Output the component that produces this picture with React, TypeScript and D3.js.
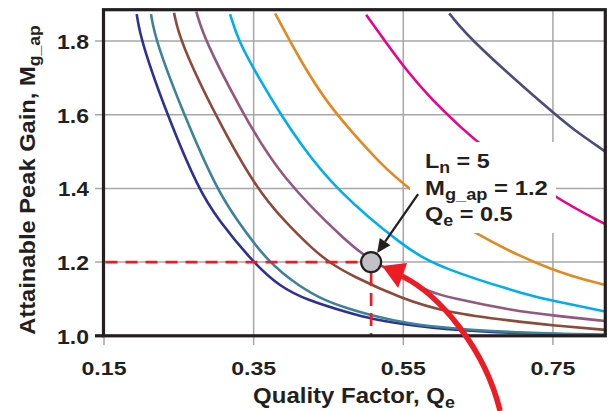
import React, { useLayoutEffect, useRef, useState } from "react";
import * as d3 from "d3";

// ---- data (Qe, attainable peak gain) ----
const qeTicks = [0.15, 0.35, 0.55, 0.75];
const qeTickLabels = ["0.15", "0.35", "0.55", "0.75"];
const gainTicks = [1.0, 1.2, 1.4, 1.6, 1.8];
const gainTickLabels = ["1.0", "1.2", "1.4", "1.6", "1.8"];
const qeGrid = [0.35, 0.55, 0.75];
const gainGrid = [1.2, 1.4, 1.6, 1.8];

const curveNavy: [number, number][] = [
  [0.1937, 1.873], [0.1995, 1.8], [0.2342, 1.6], [0.2761, 1.398], [0.3028, 1.314],
  [0.3497, 1.198], [0.3854, 1.133], [0.421, 1.097], [0.479, 1.061], [0.508, 1.046],
  [0.5525, 1.03], [0.6217, 1.015], [0.7103, 1.006], [0.82, 1.002],
];
const curveTeal: [number, number][] = [
  [0.2128, 1.873], [0.219, 1.8], [0.2583, 1.592], [0.3007, 1.398], [0.3274, 1.314],
  [0.3697, 1.198], [0.412, 1.133], [0.4432, 1.097], [0.479, 1.072], [0.508, 1.055],
  [0.5525, 1.034], [0.6217, 1.018], [0.7103, 1.008], [0.82, 1.003],
];
const curveBrown: [number, number][] = [
  [0.2436, 1.877], [0.2516, 1.799], [0.3007, 1.59], [0.3542, 1.398], [0.3898, 1.314],
  [0.4299, 1.233], [0.4522, 1.198], [0.479, 1.165], [0.5485, 1.1], [0.6087, 1.063],
  [0.697, 1.04], [0.7504, 1.028], [0.82, 1.016],
];
const curvePurple: [number, number][] = [
  [0.2733, 1.88], [0.2853, 1.799], [0.3365, 1.6], [0.3854, 1.432], [0.479, 1.245],
  [0.507, 1.205], [0.5552, 1.151], [0.586, 1.119], [0.6087, 1.105], [0.697, 1.068],
  [0.7504, 1.055], [0.82, 1.04],
];
const curveCyan: [number, number][] = [
  [0.3185, 1.873], [0.3296, 1.799], [0.3586, 1.694], [0.3853, 1.604], [0.412, 1.522],
  [0.4589, 1.398], [0.5525, 1.238], [0.5993, 1.184], [0.7197, 1.108], [0.7504, 1.095],
  [0.82, 1.066],
];
const curveOrange: [number, number][] = [
  [0.3787, 1.875], [0.4121, 1.748], [0.4455, 1.64], [0.479, 1.558], [0.519, 1.468],
  [0.557, 1.398], [0.6417, 1.278], [0.7508, 1.173], [0.82, 1.138],
];
const curveMagenta: [number, number][] = [
  [0.5004, 1.871], [0.5258, 1.799], [0.5539, 1.721], [0.5882, 1.64], [0.6301, 1.56],
  [0.6505, 1.522], [0.7531, 1.373], [0.82, 1.303],
];
const curveSlate: [number, number][] = [
  [0.6114, 1.875], [0.6417, 1.799], [0.7508, 1.604], [0.7754, 1.563], [0.82, 1.5],
];

const curves = [curveNavy, curveTeal, curveBrown, curvePurple, curveCyan, curveOrange, curveMagenta, curveSlate];
const curveColors = ["#2e3192", "#3d8299", "#8c4b3a", "#93597b", "#00aeef", "#e28a1f", "#ec008c", "#4d4b7b"];

const markerQe = 0.507;
const markerGain = 1.2;

const TXT = "#231f20";
const FONT = "'Liberation Sans', Arial, Helvetica, sans-serif";

function FitText(props: {
  x: number; y: number; width: number; anchor: "start" | "middle" | "end";
  fontSize: number; rotate?: number; children: React.ReactNode;
}) {
  const { x, y, width, anchor, fontSize, rotate = 0, children } = props;
  const ref = useRef<SVGTextElement>(null);
  const [s, setS] = useState(1);
  useLayoutEffect(() => {
    if (ref.current) {
      const w = ref.current.getBBox().width;
      if (w > 0) setS(width / w);
    }
  }, [width]);
  return (
    <g transform={`translate(${x},${y}) rotate(${rotate}) scale(${s},1)`}>
      <text ref={ref} x={0} y={0} textAnchor={anchor} fontSize={fontSize} fontWeight="bold"
        fontFamily={FONT} fill={TXT} style={{ whiteSpace: "pre" }}>
        {children}
      </text>
    </g>
  );
}

export default function App() {
  const W = 608, H = 411;
  const left = 103.5, right = 605.3, top = 9.7, bottom = 335.8;
  const x = d3.scaleLinear().domain([0.15, 0.82]).range([104, right]);
  const y = d3.scaleLinear().domain([1.0, 1.885]).range([bottom, top]);
  const line = d3.line<[number, number]>()
    .x((d) => x(d[0]))
    .y((d) => y(d[1]))
    .curve(d3.curveBasis);

  const mx = x(markerQe);
  const my = y(markerGain);

  // red curved arrow geometry (relative to the marker)
  const redTip: [number, number] = [mx + 11, my + 4];
  const redC1: [number, number] = [mx + 36, my + 1];
  const redC2: [number, number] = [mx + 27, my + 26];
  const redPath = `M${mx + 129},${H} C${mx + 114},${my + 87} ${mx + 69},${my + 33} ${mx + 31},${my + 14}`;

  // black arrow
  const bStart: [number, number] = [mx + 47, my - 68];
  const bTip: [number, number] = [mx + 6, my - 9];
  const dx = bTip[0] - bStart[0], dy = bTip[1] - bStart[1];
  const len = Math.hypot(dx, dy);
  const ux = dx / len, uy = dy / len;
  const headL = 14, headW = 6.5;
  const bBase: [number, number] = [bTip[0] - ux * headL, bTip[1] - uy * headL];
  const bHead = [
    bTip,
    [bBase[0] - uy * headW, bBase[1] + ux * headW],
    [bBase[0] + uy * headW, bBase[1] - ux * headW],
  ];

  const gridColor = "#a7a7a7";

  return (
    <svg width={W} height={H} style={{ position: "absolute", left: 0, top: 0, background: "#fff" }}>
      <rect x={0} y={0} width={W} height={H} fill="#fff" />
      {/* grid */}
      {gainGrid.map((g) => (
        <line key={"gy" + g} x1={95} x2={right} y1={y(g)} y2={y(g)} stroke={gridColor} strokeWidth={1.5} />
      ))}
      {qeGrid.map((q) => (
        <line key={"gx" + q} x1={x(q)} x2={x(q)} y1={top} y2={345} stroke={gridColor} strokeWidth={1.5} />
      ))}
      <line x1={x(0.15)} x2={x(0.15)} y1={bottom} y2={345} stroke={gridColor} strokeWidth={1.5} />

      {/* curves */}
      {curves.map((c, i) => (
        <path key={"c" + i} d={line(c) || ""} fill="none" stroke={curveColors[i]} strokeWidth={2.6} />
      ))}

      {/* label background */}
      <rect x={410} y={142} width={146} height={91} fill="#fff" />

      {/* red dashed guides */}
      <line x1={left + 2} x2={mx - 10} y1={my} y2={my} stroke="#ed1c24" strokeWidth={2.7} strokeDasharray="12 8" />
      <line x1={mx} x2={mx} y1={my + 11} y2={bottom - 1} stroke="#ed1c24" strokeWidth={2.7} strokeDasharray="13 7" />

      {/* frame */}
      <rect x={left} y={top} width={right - left} height={bottom - top} fill="none" stroke={TXT} strokeWidth={3.2} />
      <line x1={95} x2={left} y1={bottom} y2={bottom} stroke={TXT} strokeWidth={3.2} />

      {/* marker */}
      <circle cx={mx} cy={my} r={10} fill="#c1c2c6" stroke={TXT} strokeWidth={2.2} />

      {/* black arrow */}
      <line x1={bStart[0]} y1={bStart[1]} x2={bBase[0]} y2={bBase[1]} stroke={TXT} strokeWidth={2.3} />
      <polygon points={bHead.map((p) => p.join(",")).join(" ")} fill={TXT} />

      {/* tick labels */}
      {qeTicks.map((q, i) => (
        <FitText key={"xt" + q} x={x(q)} y={375} width={45} anchor="middle" fontSize={18.6}>
          {qeTickLabels[i]}
        </FitText>
      ))}
      {gainTicks.map((g, i) => (
        <FitText key={"yt" + g} x={89} y={y(g) + 8} width={32} anchor="end" fontSize={20}>
          {gainTickLabels[i]}
        </FitText>
      ))}

      {/* axis titles */}
      <FitText x={354} y={403} width={202} anchor="middle" fontSize={21.5}>
        <tspan>Quality Factor, Q</tspan>
        <tspan dy={5} fontSize={16}>e</tspan>
      </FitText>
      <FitText x={35} y={180} width={310} anchor="middle" fontSize={21.5} rotate={-90}>
        <tspan>Attainable Peak Gain, M</tspan>
        <tspan dy={5} fontSize={16}>g_ap</tspan>
      </FitText>

      {/* annotation text */}
      <FitText x={425} y={168} width={65} anchor="start" fontSize={21}>
        <tspan>L</tspan>
        <tspan dy={5} fontSize={16}>n</tspan>
        <tspan dy={-5}>{" = 5"}</tspan>
      </FitText>
      <FitText x={425} y={195} width={123} anchor="start" fontSize={21}>
        <tspan>M</tspan>
        <tspan dy={5} fontSize={16}>g_ap</tspan>
        <tspan dy={-5}>{" = 1.2"}</tspan>
      </FitText>
      <FitText x={425} y={221} width={88} anchor="start" fontSize={21}>
        <tspan>Q</tspan>
        <tspan dy={5} fontSize={16}>e</tspan>
        <tspan dy={-5}>{" = 0.5"}</tspan>
      </FitText>

      {/* red curved arrow */}
      <path d={redPath} fill="none" stroke="#ed1c24" strokeWidth={5.5} />
      <polygon points={[redTip, redC1, redC2].map((p) => p.join(",")).join(" ")} fill="#ed1c24" />
    </svg>
  );
}
